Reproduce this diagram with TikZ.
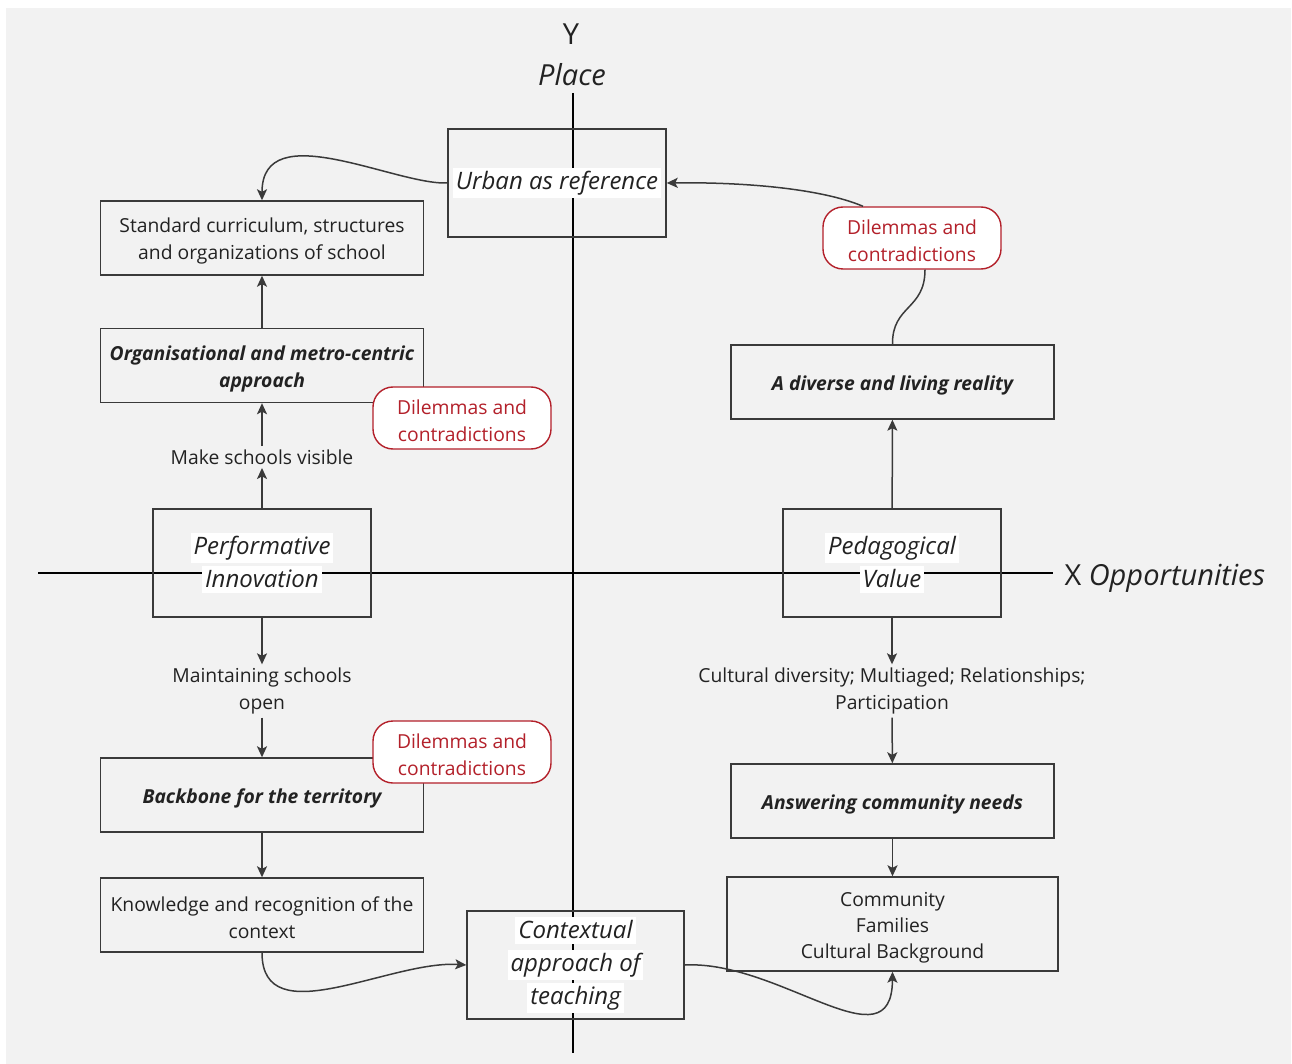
\documentclass[tikz,border=0pt]{standalone}
\usepackage{fontspec}
\setmainfont{Open Sans}
\usepackage{xcolor}
\usepackage{tikz}
\usetikzlibrary{arrows.meta,positioning}

\definecolor{bggray}{HTML}{F2F2F2}
\definecolor{edgegray}{HTML}{3A3A3A}
\definecolor{ink}{HTML}{222222}
\definecolor{dilred}{HTML}{B3202A}
\newcommand{\txtfont}{\fontsize{19.3}{27}\selectfont}
\newcommand{\keyfont}{\fontsize{24}{33}\selectfont\itshape}
\newcommand{\axfont}{\fontsize{29}{34}\selectfont}
\newcommand{\wb}[1]{{\setlength{\fboxsep}{3pt}\colorbox{white}{\rule[-3pt]{0pt}{21pt}#1}}}
\newcommand{\lift}{\rule{0pt}{21pt}}

\begin{document}
\begin{tikzpicture}[x=1pt,y=-1pt,
  box/.style={draw=edgegray,line width=1.4pt,minimum width=323pt,minimum height=74pt,
    align=center,text=ink,font=\txtfont},
  boldbox/.style={box,font=\txtfont\bfseries\itshape},
  keybox/.style={draw=edgegray,line width=1.4pt,minimum width=218pt,minimum height=108pt,
    align=center,text=ink,font=\keyfont},
  dilemma/.style={draw=dilred,fill=white,line width=1.4pt,rounded corners=20pt,
    minimum width=178pt,minimum height=62pt,align=center,text=dilred,font=\txtfont},
  plain/.style={align=center,text=ink,font=\txtfont},
  flow/.style={draw=edgegray,line width=1.5pt,-{Stealth[length=11pt,width=10pt,inset=2.5pt]}},
  link/.style={draw=edgegray,line width=1.5pt},
  axis/.style={draw=black,line width=2pt}]
  \useasboundingbox (0,0) rectangle (1292,1064);
  \fill[bggray] (6,8) rectangle (1291,1064);

  % axes
  \coordinate (ytop) at (573,93); \coordinate (ybot) at (573,1053);
  \coordinate (xleft) at (38,573); \coordinate (xright) at (1053,573);
  \draw[axis] (ytop) -- (ybot);
  \draw[axis] (xleft) -- (xright);
  \node[text=ink,font=\axfont] (ylab) at (571,34) {Y};
  \node[text=ink,font=\axfont\itshape] (place) at (572,75) {Place};
  \node[anchor=west,text=ink,font=\axfont] (xlab) at (1061,578) {X \textit{Opportunities}};

  % left column
  \node[keybox] (urban) at (557,183) {\wb{Urban as reference}};
  \node[box] (standard) at (262,238) {\lift Standard curriculum, structures\\and organizations of school};
  \node[boldbox] (metro) at (262,365.5) {\lift Organisational and metro-centric\\approach};
  \node[plain] (visible) at (262,457) {Make schools visible};
  \node[keybox] (perform) at (262,563) {\wb{Performative}\\\wb{Innovation}};
  \node[plain] (open) at (262,691) {Maintaining schools\\open};
  \node[boldbox] (backbone) at (262,795) {\lift Backbone for the territory};
  \node[box] (knowledge) at (262,915) {\lift Knowledge and recognition of the\\context};
  \node[keybox,minimum width=217pt] (context) at (575.5,965) {\wb{Contextual}\\\wb{approach of}\\\wb{teaching}};
  \node[dilemma] (dilA) at (462,418) {\lift Dilemmas and\\contradictions};
  \node[dilemma] (dilB) at (462,752) {\lift Dilemmas and\\contradictions};

  % right column
  \node[dilemma] (dilC) at (912,238) {\lift Dilemmas and\\contradictions};
  \node[boldbox] (diverse) at (892.5,382) {\lift A diverse and living reality};
  \node[keybox] (pedag) at (892,563) {\wb{Pedagogical}\\\wb{Value}};
  \node[plain] (diversity) at (892,691) {Cultural diversity; Multiaged; Relationships;\\Participation};
  \node[boldbox] (needs) at (892.5,801) {\lift Answering community needs};
  \node[box,minimum width=331pt,minimum height=94pt,font=\fontsize{19.3}{26}\selectfont] (community) at (892.5,924)
    {\lift Community\\Families\\Cultural Background};

  % connectors
  \draw[flow] (urban.west) .. controls (395,185) and (262,115) .. (standard.north);
  \draw[flow] (metro) -- (standard);
  \draw[flow] (visible) -- (metro);
  \draw[flow] (perform) -- (visible);
  \draw[flow] (perform) -- (open);
  \draw[flow] (open) -- (backbone);
  \draw[flow] (backbone) -- (knowledge);
  \draw[flow] (knowledge.south) .. controls (262,1035) and (390,960) .. (context.west);
  \draw[flow] (context.east) .. controls (780,960) and (892,1068) .. (community.south);
  \draw[flow] (pedag) -- (diverse);
  \draw[link] (diverse.north) .. controls (892,305) and (925,310) .. ([xshift=13pt]dilC.south);
  \draw[flow] ([xshift=-49pt]dilC.north) .. controls (820,188) and (740,182) .. (urban.east);
  \draw[flow] (pedag) -- (diversity);
  \draw[flow] (diversity) -- (needs);
  \draw[flow] (needs) -- (community);
\end{tikzpicture}
\end{document}
